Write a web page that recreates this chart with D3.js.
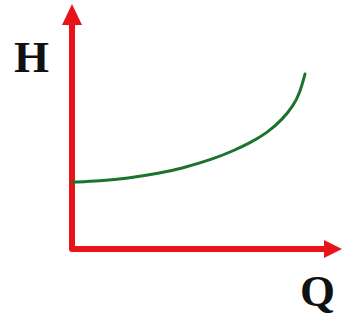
<!DOCTYPE html>
<html>
<head>
<meta charset="utf-8">
<script src="https://cdn.jsdelivr.net/npm/d3@7"></script>
<style>
  html, body { margin: 0; padding: 0; background: #fff; }
  svg { display: block; }
</style>
</head>
<body>
<svg id="chart" width="343" height="322"></svg>
<script>
// Pump characteristic: head H rising with flow Q
const flowQ = [0.4, 10.4, 20.4, 32.6, 40.0, 52.2, 59.6, 65.9, 72.2, 78.1, 81.9, 84.4, 86.3];
const headH = [27.3, 27.8, 28.8, 31.0, 32.7, 36.7, 40.0, 43.3, 47.3, 53.1, 58.4, 63.7, 71.4];
const axisLabels = ["Q", "H"];

const svg = d3.select("#chart");
const x = d3.scaleLinear().domain([0, 100]).range([72, 342]);
const y = d3.scaleLinear().domain([0, 100]).range([249, 4]);

const red = "#e8141a";
const arrowLen = 20, arrowHalf = 10;

// Axes: L-shaped red lines with arrowheads
svg.append("path")
  .attr("d", `M${x(0)},${y(100) + arrowLen} V${y(0)} H${x(100) - arrowLen + 2}`)
  .attr("fill", "none")
  .attr("stroke", red)
  .attr("stroke-width", 6)
  .attr("stroke-linejoin", "round")
  .attr("stroke-linecap", "butt");

svg.append("path")
  .attr("d", `M${x(0)},${y(100)} L${x(0) - arrowHalf},${y(100) + arrowLen + 1} L${x(0) + arrowHalf},${y(100) + arrowLen + 1} Z`)
  .attr("fill", red);

svg.append("path")
  .attr("d", `M${x(100)},${y(0)} L${x(100) - arrowLen + 2},${y(0) - 9} L${x(100) - arrowLen + 2},${y(0) + 9} Z`)
  .attr("fill", red);

// Characteristic curve, smoothed through the sampled points
const line = d3.line()
  .x((d, i) => x(flowQ[i]))
  .y(d => y(d))
  .curve(d3.curveBasis);

svg.append("path")
  .datum(headH)
  .attr("d", line)
  .attr("fill", "none")
  .attr("stroke", "#1a742b")
  .attr("stroke-width", 3)
  .attr("stroke-linecap", "round");

// Axis labels
const labelStyle = sel => sel
  .attr("font-family", "'Liberation Serif', 'Times New Roman', serif")
  .attr("font-weight", "bold")
  .attr("font-size", 45)
  .attr("fill", "#111");

svg.append("text").text(axisLabels[1])
  .attr("x", 14).attr("y", 72)
  .call(labelStyle);

svg.append("text").text(axisLabels[0])
  .attr("x", 300).attr("y", 306)
  .call(labelStyle);
</script>
</body>
</html>
